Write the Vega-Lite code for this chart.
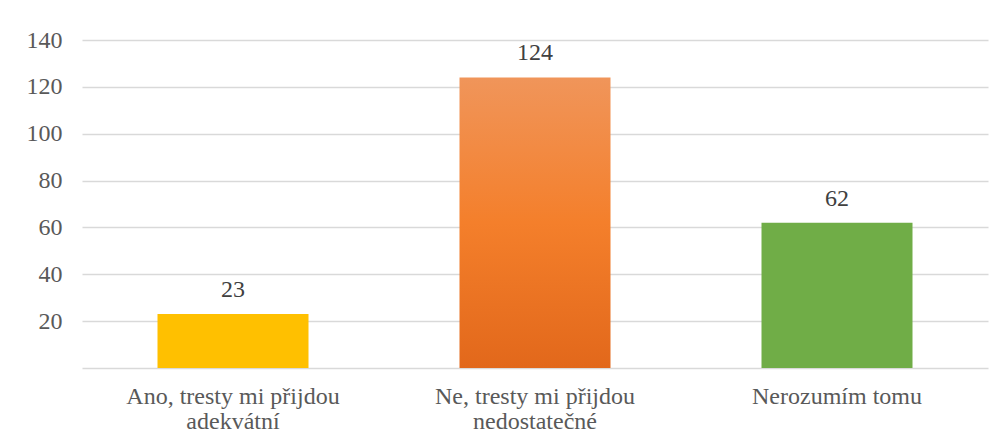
{
  "$schema": "https://vega.github.io/schema/vega-lite/v6.json",
  "autosize": {"type": "none"},
  "width": 906,
  "height": 328,
  "padding": {"left": 82, "top": 40, "right": 17, "bottom": 77},
  "background": "white",
  "config": {
    "view": {"stroke": null},
    "font": "Liberation Serif"
  },
  "data": {
    "values": [
      {"kategorie": "Ano, tresty mi přijdou adekvátní", "pocet": 23},
      {"kategorie": "Ne, tresty mi přijdou nedostatečné", "pocet": 124},
      {"kategorie": "Nerozumím tomu", "pocet": 62}
    ]
  },
  "encoding": {
    "x": {
      "field": "kategorie",
      "type": "nominal",
      "sort": ["Ano, tresty mi přijdou adekvátní", "Ne, tresty mi přijdou nedostatečné", "Nerozumím tomu"],
      "scale": {
        "domain": ["Ano, tresty mi přijdou adekvátní", "Ne, tresty mi přijdou nedostatečné", "Nerozumím tomu"],
        "paddingInner": 0.5,
        "paddingOuter": 0.25
      },
      "axis": {
        "title": null,
        "domain": false,
        "ticks": false,
        "labelAngle": 0,
        "labelFont": "Liberation Serif",
        "labelFontSize": 24,
        "labelColor": "#595959",
        "labelBaseline": "alphabetic",
        "labelPadding": 35,
        "labelLineHeight": 25,
        "labelLimit": 400,
        "labelExpr": "datum.label == 'Ano, tresty mi přijdou adekvátní' ? ['Ano, tresty mi přijdou', 'adekvátní'] : datum.label == 'Ne, tresty mi přijdou nedostatečné' ? ['Ne, tresty mi přijdou', 'nedostatečné'] : datum.label"
      }
    },
    "y": {
      "field": "pocet",
      "type": "quantitative",
      "scale": {"domain": [0, 140], "nice": false},
      "axis": {
        "title": null,
        "domain": false,
        "ticks": false,
        "values": [0, 20, 40, 60, 80, 100, 120, 140],
        "labelFont": "Liberation Serif",
        "labelFontSize": 24,
        "labelColor": "#595959",
        "labelPadding": 20,
        "gridColor": "#d9d9d9",
        "gridWidth": 1.5,
        "labelExpr": "datum.value == 0 ? '' : datum.label"
      }
    }
  },
  "layer": [
    {
      "transform": [{"filter": "datum.kategorie != 'Ne, tresty mi přijdou nedostatečné'"}],
      "mark": {"type": "bar"},
      "encoding": {
        "color": {
          "field": "kategorie",
          "type": "nominal",
          "legend": null,
          "scale": {
            "domain": ["Ano, tresty mi přijdou adekvátní", "Nerozumím tomu"],
            "range": ["#FFC000", "#70AD47"]
          }
        }
      }
    },
    {
      "transform": [{"filter": "datum.kategorie == 'Ne, tresty mi přijdou nedostatečné'"}],
      "mark": {
        "type": "bar",
        "color": {
          "gradient": "linear",
          "x1": 0, "y1": 0, "x2": 0, "y2": 1,
          "stops": [
            {"offset": 0, "color": "#F0955A"},
            {"offset": 0.5, "color": "#F47F2B"},
            {"offset": 1, "color": "#E2681B"}
          ]
        }
      }
    },
    {
      "mark": {
        "type": "text",
        "baseline": "alphabetic",
        "dy": -17,
        "font": "Liberation Serif",
        "fontSize": 24,
        "color": "#404040"
      },
      "encoding": {"text": {"field": "pocet", "type": "quantitative"}}
    }
  ]
}
